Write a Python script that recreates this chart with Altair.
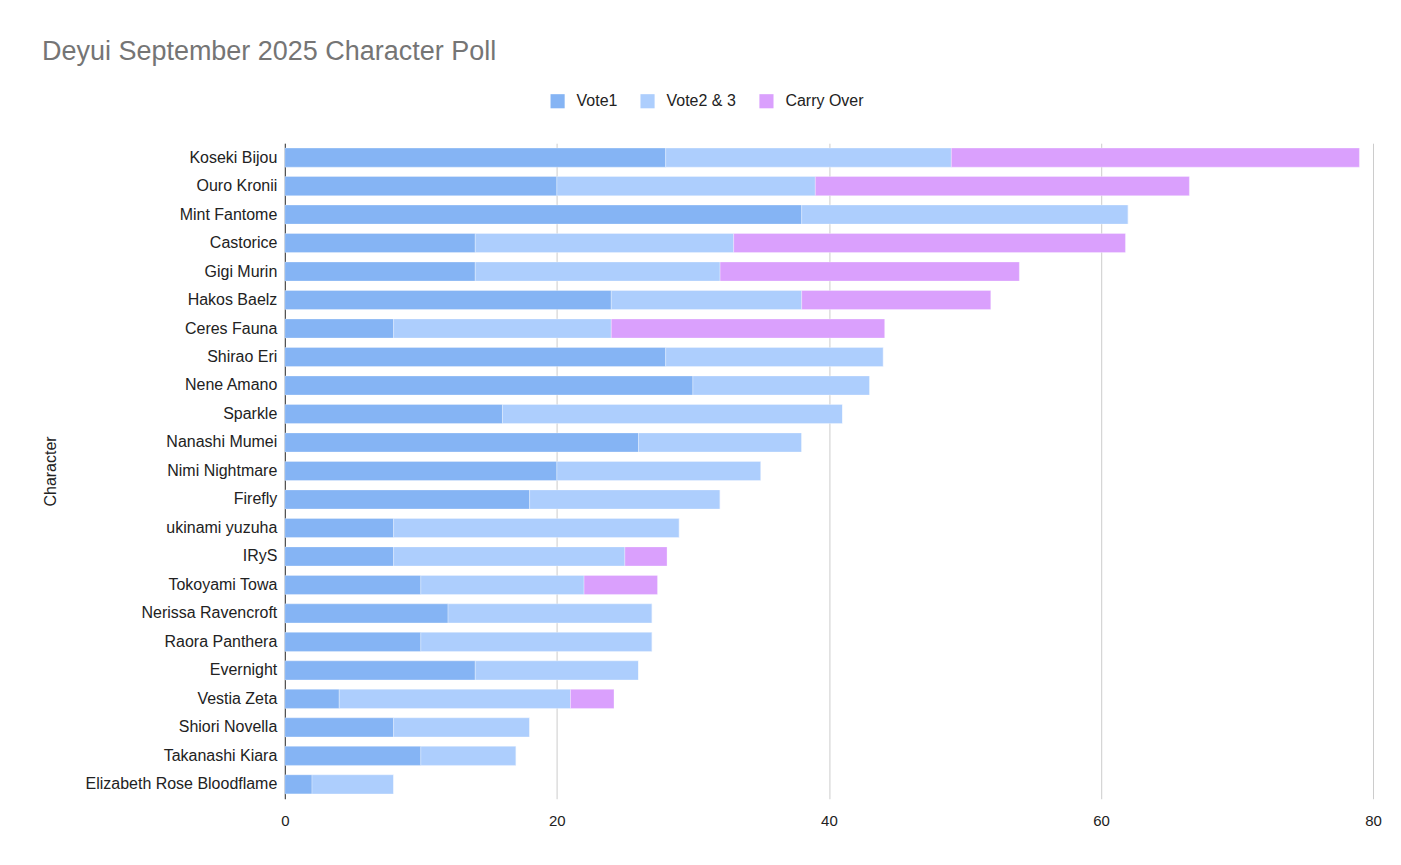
import altair as alt
import pandas as pd

characters = [
    "Koseki Bijou", "Ouro Kronii", "Mint Fantome", "Castorice", "Gigi Murin",
    "Hakos Baelz", "Ceres Fauna", "Shirao Eri", "Nene Amano", "Sparkle",
    "Nanashi Mumei", "Nimi Nightmare", "Firefly", "ukinami yuzuha", "IRyS",
    "Tokoyami Towa", "Nerissa Ravencroft", "Raora Panthera", "Evernight",
    "Vestia Zeta", "Shiori Novella", "Takanashi Kiara", "Elizabeth Rose Bloodflame",
]
vote1 = [28, 20, 38, 14, 14, 24, 8, 28, 30, 16, 26, 20, 18, 8, 8, 10, 12, 10, 14, 4, 8, 10, 2]
vote23 = [21, 19, 24, 19, 18, 14, 16, 16, 13, 25, 12, 15, 14, 21, 17, 12, 15, 17, 12, 17, 10, 7, 6]
carry = [30, 27.5, 0, 28.8, 22, 13.9, 20.1, 0, 0, 0, 0, 0, 0, 0, 3.1, 5.4, 0, 0, 0, 3.2, 0, 0, 0]

series = ["Vote1", "Vote2 & 3", "Carry Over"]
colors = ["#85b4f4", "#adcefd", "#daa0fd"]

rows = []
for i, c in enumerate(characters):
    for k, (s, v) in enumerate(zip(series, [vote1[i], vote23[i], carry[i]])):
        rows.append({"Character": c, "Series": s, "Value": v, "Order": k})
df = pd.DataFrame(rows)

FONT = "Liberation Sans"

chart = alt.Chart(df).mark_bar(stroke="white", strokeWidth=0.5, strokeOpacity=0.6).encode(
    y=alt.Y(
        "Character:N",
        sort=characters,
        title="Character",
        scale=alt.Scale(paddingInner=0.33, paddingOuter=0.17),
        axis=alt.Axis(
            domain=True, domainColor="#333333", domainWidth=1,
            ticks=False, labelPadding=8, labelFontSize=16, labelColor="#222222",
            labelFont=FONT, labelLimit=400, grid=False,
            titleFont=FONT, titleFontSize=16, titleFontWeight="normal",
            titleColor="#222222", titlePadding=26,
        ),
    ),
    x=alt.X(
        "Value:Q",
        stack="zero",
        title=None,
        scale=alt.Scale(domain=[0, 80], nice=False),
        axis=alt.Axis(
            values=[0, 20, 40, 60, 80], domain=False, ticks=False,
            grid=True, gridColor="#cccccc", gridWidth=1, labelFlush=False,
            labelPadding=15, labelFontSize=15, labelColor="#222222", labelFont=FONT,
        ),
    ),
    color=alt.Color(
        "Series:N",
        sort=series,
        scale=alt.Scale(domain=series, range=colors),
        legend=alt.Legend(
            title=None, orient="none", direction="horizontal",
            legendX=265, legendY=-50,
            symbolType="square", symbolSize=200, symbolStrokeWidth=0,
            symbolOpacity=1, labelFontSize=16, labelColor="#222222",
            labelFont=FONT, labelOffset=11, columnPadding=22,
        ),
    ),
    order=alt.Order("Order:Q", sort="ascending"),
).properties(
    width=1089,
    height=656,
    autosize=alt.AutoSizeParams(type="none"),
    padding={"left": 277, "top": 135, "right": 20, "bottom": 50},
    title=alt.TitleParams(
        "Deyui September 2025 Character Poll",
        anchor="start", frame="group", dx=-243, dy=-23, fontSize=27, font=FONT,
        fontWeight="normal", color="#757575",
    ),
).configure_view(stroke=None)

chart.save("out.html", embed_options={"renderer": "svg", "actions": False})
